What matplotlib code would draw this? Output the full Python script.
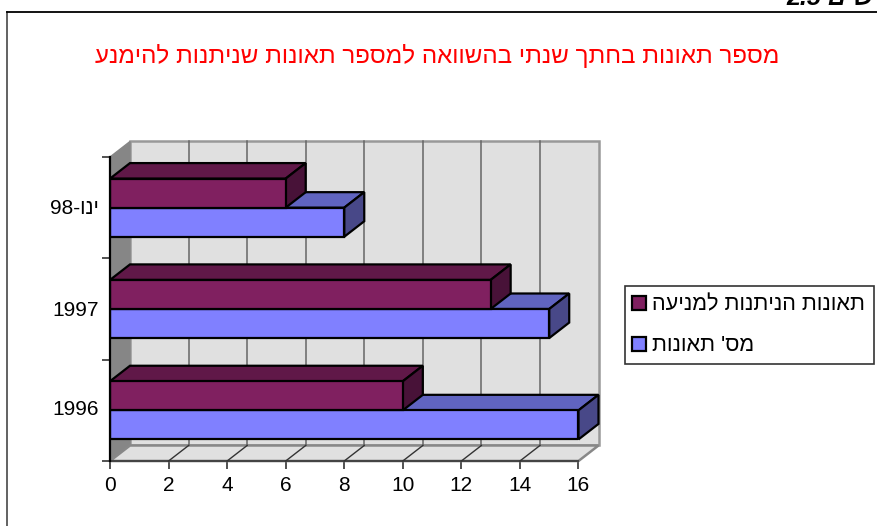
import numpy as np
import matplotlib
matplotlib.use('Agg')
import matplotlib.pyplot as plt
from matplotlib.lines import Line2D
from matplotlib.patches import Patch, Polygon, Rectangle

plt.rcParams['font.family'] = ['Liberation Sans', 'DejaVu Sans']

# Dane z wykresu (od dolu do gory)
categories = ['1996', '1997', '98-' + 'ינו'[::-1]]
accidents = [16, 15, 8]
preventable = [10, 13, 6]
x_ticks = [0, 2, 4, 6, 8, 10, 12, 14, 16]

title = 'מספר תאונות בחתך שנתי בהשוואה למספר תאונות שניתנות להימנע'
label_accidents = "מס' תאונות"
label_preventable = 'תאונות הניתנות למניעה'
corner_text = '2.5 ' + 'תרשים'[::-1]

W, H = 878, 526
# Wymiary "glebi" 3D w jednostkach danych
DX = 20 / 29.28
DY = 15.5 / 101.3
BAR_H = 0.287


def box(ax, left_val, y0, h, color, top, side):
    # przednia sciana + gora + bok
    ax.barh(y0 + h / 2, left_val, height=h, color=color, edgecolor='black', linewidth=1.6, zorder=5)
    ax.add_patch(Polygon([(0, y0 + h), (DX, y0 + h + DY), (left_val + DX, y0 + h + DY), (left_val, y0 + h)],
                         fc=top, ec='black', lw=1.6, zorder=4, clip_on=False))
    ax.add_patch(Polygon([(left_val, y0), (left_val + DX, y0 + DY), (left_val + DX, y0 + h + DY), (left_val, y0 + h)],
                         fc=side, ec='black', lw=1.6, zorder=4, clip_on=False))


fig = plt.figure(figsize=(W / 100, H / 100), dpi=100)
ax = fig.add_axes([110 / W, 1 - 461 / H, 468.5 / W, 304 / H])
ax.set_xlim(0, 16)
ax.set_ylim(0, 3)

# Sciany i podloga
n = len(categories)
ax.add_patch(Polygon([(DX, DY), (16 + DX, DY), (16 + DX, n + DY), (DX, n + DY)],
                     fc='#e0e0e0', ec='#999999', lw=1.8, zorder=1, clip_on=False))
ax.add_patch(Polygon([(0, 0), (DX, DY), (DX, n + DY), (0, n)],
                     fc='#868686', ec='#868686', lw=1, zorder=2, clip_on=False))
ax.add_patch(Polygon([(0, 0), (16, 0), (16 + DX, DY), (DX, DY)],
                     fc='#e0e0e0', ec='#888888', lw=1.8, zorder=2, clip_on=False))

for v in x_ticks[1:-1]:
    ax.plot([v + DX, v + DX], [DY, n + DY], color='#666666', lw=1.1, zorder=3, clip_on=False)
    ax.plot([v, v + DX], [0, DY], color='#333333', lw=1, zorder=3, clip_on=False)

# Slupki: niebieskie najpierw, fioletowe na wierzchu
for i in range(n):
    box(ax, accidents[i], i + 0.5 - BAR_H, BAR_H, '#8080ff', '#6064c0', '#484888')
for i in range(n):
    box(ax, preventable[i], i + 0.5, BAR_H, '#802060', '#601848', '#481238')

ax.set_xticks(x_ticks)
ax.set_yticks([0, 1, 2, 3])
ax.set_yticks([0.53, 1.5, 2.51], minor=True)
ax.set_yticklabels([])
ax.set_yticklabels(categories, minor=True)
ax.tick_params(axis='y', which='minor', length=0, pad=8, labelsize=15)
ax.tick_params(axis='y', which='major', length=6, width=1.2, color='#333333')
ax.tick_params(axis='x', length=6, width=1.2, color='#333333', labelsize=15, pad=5)
for s in ['top', 'right']:
    ax.spines[s].set_visible(False)
ax.spines['left'].set_linewidth(1.6)
ax.spines['left'].set_zorder(6)
ax.spines['bottom'].set_color('#444444')
ax.spines['bottom'].set_linewidth(1.5)

# Ramka, tytul, tekst w rogu
fig.add_artist(Line2D([7.5 / W, 7.5 / W], [0, 1 - 11.5 / H], color='#555555', lw=1.3))
fig.add_artist(Line2D([7.5 / W, 1], [1 - 11.5 / H, 1 - 11.5 / H], color='black', lw=1.3))
fig.text(437.5 / W, 1 - 55.5 / H, title[::-1], color='#ff0000', fontsize=17.4, ha='center', va='center')
fig.text(786 / W, 1 - 5 / H, corner_text, fontsize=18, fontweight='bold', fontstyle='italic', ha='left', va='baseline')

# Legenda: ramka osobno, zeby zgadzal sie rozmiar
fig.add_artist(Rectangle((624.5 / W, 1 - 363.5 / H), 249.5 / W, 78 / H, transform=fig.transFigure,
                         fc='white', ec='#333333', lw=1.2))
handles = [Patch(fc='#802060', ec='black', lw=1.6), Patch(fc='#8080ff', ec='black', lw=1.6)]
labels = [label_preventable[::-1], label_accidents[::-1]]
fig.legend(handles, labels, loc='upper left', bbox_to_anchor=(632 / W, 1 - 294.5 / H), borderaxespad=0,
           fontsize=15.6, frameon=False, handlelength=0.65, handleheight=0.65, handletextpad=0.28,
           labelspacing=0.92, borderpad=0)

fig.savefig('out.png', dpi=100)
